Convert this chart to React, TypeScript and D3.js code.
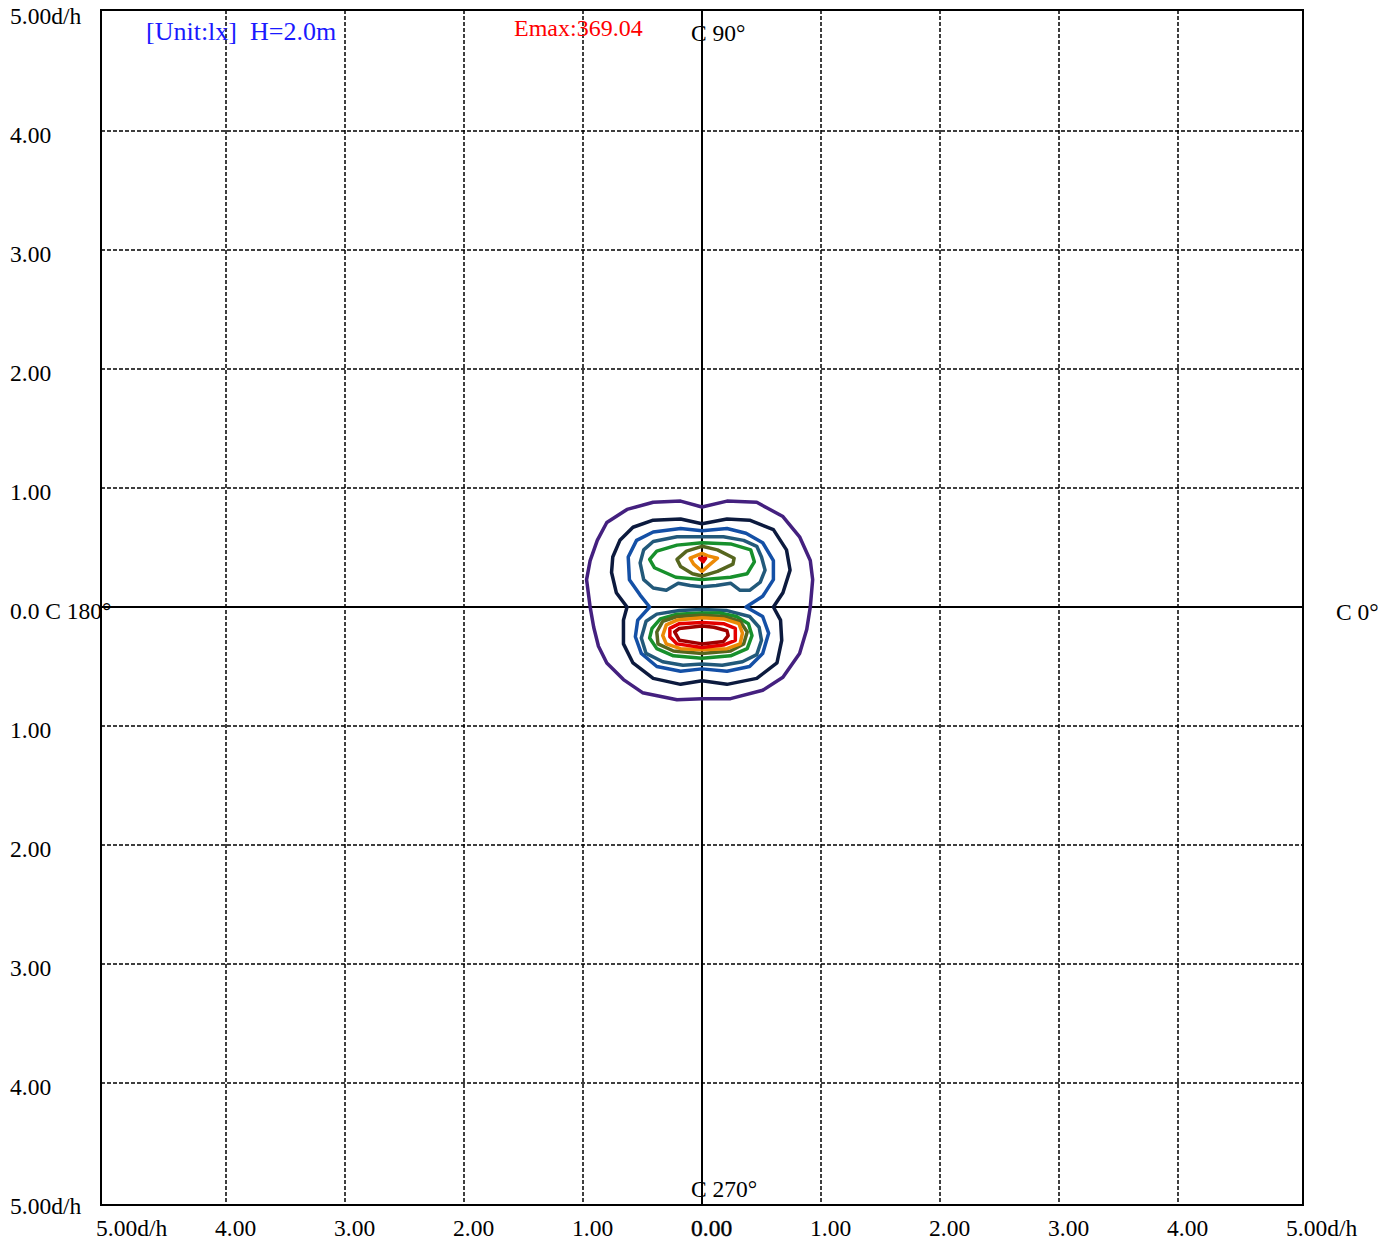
import React from "react";
import * as d3 from "d3";

// ---- data (d/h units, x → C0°, y → C90°) ----
const xTicks = [-5, -4, -3, -2, -1, 0, 1, 2, 3, 4, 5];
const yTicks = [5, 4, 3, 2, 1, 0, -1, -2, -3, -4, -5];
const xTickLabels = ["5.00d/h", "4.00", "3.00", "2.00", "1.00", "0.00", "1.00", "2.00", "3.00", "4.00", "5.00d/h"];
const yTickLabels = ["5.00d/h", "4.00", "3.00", "2.00", "1.00", "0.0 C 180°", "1.00", "2.00", "3.00", "4.00", "5.00d/h"];
const unitText = "[Unit:lx]  H=2.0m";
const emaxText = "Emax:369.04";

const contourPurple: [number, number][] = [
  [0, 0.84], [-0.18, 0.89], [-0.41, 0.88], [-0.63, 0.82], [-0.8, 0.71], [-0.88, 0.56], [-0.94, 0.39],
  [-0.97, 0.23], [-0.94, 0.0], [-0.91, -0.17], [-0.87, -0.33], [-0.8, -0.47], [-0.66, -0.61],
  [-0.5, -0.72], [-0.21, -0.78], [0, -0.77], [0.24, -0.77], [0.51, -0.7], [0.68, -0.59],
  [0.82, -0.39], [0.88, -0.19], [0.91, 0.0], [0.93, 0.23], [0.91, 0.39], [0.82, 0.59],
  [0.68, 0.76], [0.46, 0.88], [0.21, 0.89],
];
const contourNavy: [number, number][] = [
  [0, 0.7], [-0.18, 0.74], [-0.41, 0.73], [-0.58, 0.67], [-0.69, 0.56], [-0.75, 0.42], [-0.76, 0.29],
  [-0.72, 0.12], [-0.63, 0.0], [-0.66, -0.11], [-0.66, -0.31], [-0.58, -0.47], [-0.41, -0.6],
  [-0.18, -0.65], [0, -0.62], [0.21, -0.65], [0.46, -0.6], [0.63, -0.47], [0.67, -0.28],
  [0.66, -0.11], [0.6, 0.0], [0.68, 0.12], [0.74, 0.31], [0.71, 0.48], [0.6, 0.65], [0.4, 0.73],
  [0.21, 0.74],
];
const contourBlue: [number, number][] = [
  [0, 0.64], [-0.18, 0.66], [-0.41, 0.63], [-0.55, 0.56], [-0.62, 0.42], [-0.61, 0.23], [-0.52, 0.1],
  [-0.44, 0.0], [-0.54, -0.11], [-0.56, -0.25], [-0.51, -0.39], [-0.38, -0.5], [-0.18, -0.54],
  [0, -0.52], [0.21, -0.54], [0.4, -0.5], [0.51, -0.39], [0.56, -0.22], [0.51, -0.08], [0.37, 0.0],
  [0.51, 0.09], [0.6, 0.23], [0.6, 0.39], [0.51, 0.54], [0.37, 0.62], [0.21, 0.66],
];
const contourTealUpper: [number, number][] = [
  [0, 0.59], [-0.21, 0.59], [-0.41, 0.55], [-0.49, 0.48], [-0.52, 0.37], [-0.49, 0.23], [-0.41, 0.16],
  [-0.3, 0.14], [-0.2, 0.2], [-0.1, 0.18], [0, 0.17], [0.12, 0.18], [0.24, 0.2], [0.32, 0.14],
  [0.4, 0.14], [0.49, 0.21], [0.53, 0.31], [0.5, 0.42], [0.46, 0.51], [0.35, 0.56], [0.18, 0.59],
];
const contourTealLower: [number, number][] = [
  [0, -0.02], [-0.19, -0.03], [-0.38, -0.06], [-0.47, -0.12], [-0.51, -0.26], [-0.47, -0.39],
  [-0.33, -0.46], [-0.16, -0.49], [0, -0.48], [0.17, -0.49], [0.34, -0.46], [0.46, -0.4],
  [0.5, -0.28], [0.48, -0.17], [0.4, -0.08], [0.21, -0.03],
];
const contourGreenUpper: [number, number][] = [
  [0, 0.54], [-0.21, 0.52], [-0.38, 0.47], [-0.44, 0.4], [-0.4, 0.33], [-0.22, 0.25], [0, 0.23],
  [0.24, 0.25], [0.38, 0.28], [0.44, 0.38], [0.41, 0.48], [0.24, 0.53],
];
const contourGreenLower: [number, number][] = [
  [0, -0.05], [-0.21, -0.06], [-0.35, -0.1], [-0.42, -0.18], [-0.44, -0.26], [-0.38, -0.35],
  [-0.24, -0.41], [0, -0.43], [0.24, -0.41], [0.38, -0.35], [0.42, -0.24], [0.39, -0.14],
  [0.29, -0.08], [0.15, -0.05],
];
const contourOliveUpper: [number, number][] = [
  [0, 0.51], [-0.13, 0.47], [-0.21, 0.4], [-0.18, 0.34], [-0.08, 0.28], [0, 0.26], [0.13, 0.3],
  [0.26, 0.36], [0.27, 0.41], [0.13, 0.48],
];
const contourOliveLower: [number, number][] = [
  [0, -0.07], [-0.21, -0.08], [-0.33, -0.12], [-0.38, -0.21], [-0.37, -0.31], [-0.24, -0.37],
  [0, -0.39], [0.24, -0.37], [0.35, -0.31], [0.38, -0.21], [0.32, -0.12], [0.18, -0.08],
];
const contourOrangeUpper: [number, number][] = [
  [0, 0.45], [-0.1, 0.41], [-0.07, 0.36], [0, 0.3], [0.07, 0.36], [0.13, 0.41], [0.05, 0.43],
];
const contourOrangeLower: [number, number][] = [
  [0, -0.09], [-0.21, -0.11], [-0.3, -0.15], [-0.33, -0.24], [-0.3, -0.31], [-0.18, -0.35],
  [0, -0.36], [0.21, -0.35], [0.32, -0.31], [0.34, -0.22], [0.31, -0.14], [0.18, -0.1],
];
const contourRedUpper: [number, number][] = [
  [-0.02, 0.41], [0.03, 0.41], [0.01, 0.38],
];
const contourRedLower: [number, number][] = [
  [0, -0.13], [-0.19, -0.14], [-0.27, -0.18], [-0.27, -0.25], [-0.21, -0.31], [0, -0.34],
  [0.18, -0.32], [0.28, -0.28], [0.28, -0.18], [0.18, -0.14],
];
const contourDarkRedLower: [number, number][] = [
  [0, -0.16], [-0.19, -0.18], [-0.23, -0.21], [-0.19, -0.28], [0, -0.31], [0.18, -0.29],
  [0.22, -0.24], [0.21, -0.2], [0.1, -0.17],
];

const contours = [
  contourPurple, contourNavy, contourBlue, contourTealUpper, contourTealLower,
  contourGreenUpper, contourGreenLower, contourOliveUpper, contourOliveLower,
  contourOrangeUpper, contourOrangeLower, contourRedUpper, contourRedLower, contourDarkRedLower,
];

// ---- styles ----
const contourColors = [
  "#44207f", "#0c1a3e", "#1450a6", "#22597a", "#22597a",
  "#17902c", "#17902c", "#56661f", "#56661f",
  "#ec8a06", "#ec8a06", "#e40000", "#e40000", "#a00000",
];

const W = 1397;
const H = 1244;
const frame = { left: 101, right: 1303, top: 10, bottom: 1205 };
const FONT = "'Liberation Serif', 'Times New Roman', serif";

export default function App() {
  const x = d3.scaleLinear().domain([-5, 5]).range([107, 1297]);
  const y = d3.scaleLinear().domain([-5, 5]).range([1202, 12]);
  const line = d3
    .line<[number, number]>()
    .x((d) => x(d[0]))
    .y((d) => y(d[1]))
    .curve(d3.curveLinearClosed);

  const gridX = xTicks.filter((t) => t !== 0 && Math.abs(t) !== 5);
  const gridY = yTicks.filter((t) => t !== 0 && Math.abs(t) !== 5);

  return (
    <svg
      width={W}
      height={H}
      style={{ position: "absolute", left: 0, top: 0, background: "#fff" }}
      fontFamily={FONT}
    >
      <rect x={0} y={0} width={W} height={H} fill="#fff" />
      {/* dashed grid */}
      {gridX.map((t) => (
        <line key={"gx" + t} x1={x(t)} x2={x(t)} y1={frame.top} y2={frame.bottom}
          stroke="#000" strokeWidth={1.5} strokeDasharray="4 2" />
      ))}
      {gridY.map((t) => (
        <line key={"gy" + t} x1={frame.left} x2={frame.right} y1={y(t)} y2={y(t)}
          stroke="#000" strokeWidth={1.5} strokeDasharray="4 2" />
      ))}
      {/* axes */}
      <line x1={x(0)} x2={x(0)} y1={frame.top} y2={frame.bottom} stroke="#000" strokeWidth={2} />
      <line x1={frame.left} x2={frame.right} y1={y(0)} y2={y(0)} stroke="#000" strokeWidth={2} />
      {/* frame */}
      <rect x={frame.left} y={frame.top} width={frame.right - frame.left} height={frame.bottom - frame.top}
        fill="none" stroke="#000" strokeWidth={2} />

      {/* contours */}
      {contours.map((c, i) => (
        <path key={"c" + i} d={line(c) || ""} fill="none" stroke={contourColors[i]}
          strokeWidth={3.5} strokeLinejoin="round" />
      ))}

      {/* y tick labels */}
      {yTicks.map((t, i) => (
        <text key={"yl" + i} x={10} y={y(t) + 12} fontSize={23.5} fill="#000">{yTickLabels[i]}</text>
      ))}
      {/* x tick labels */}
      {xTicks.map((t, i) => (
        <text key={"xl" + i} x={x(t) - 11} y={1236} fontSize={23.5} fill="#000"
          stroke={t === 0 ? "#000" : "none"} strokeWidth={t === 0 ? 0.4 : 0}>{xTickLabels[i]}</text>
      ))}
      {/* angle labels */}
      <text x={x(0) - 11} y={41} fontSize={23.5} fill="#000">C 90°</text>
      <text x={x(0) - 11} y={1197} fontSize={23.5} fill="#000">C 270°</text>
      <text x={1336} y={620} fontSize={23.5} fill="#000">C 0°</text>

      <text x={146} y={40} fontSize={26} fill="#1a1aff" style={{ whiteSpace: "pre" }}>{unitText}</text>
      <text x={514} y={36} fontSize={24} fill="#ff0000">{emaxText}</text>
    </svg>
  );
}
